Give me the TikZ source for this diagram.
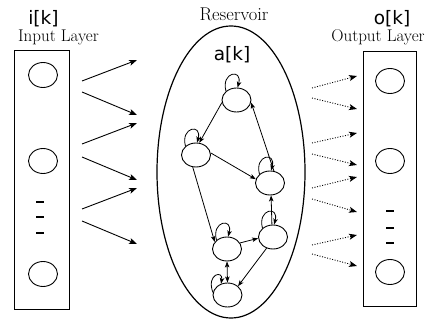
\documentclass[tikz,border=0pt]{standalone}
\usepackage{fontspec}
\newfontfamily\varfont{DejaVu Sans}
\usetikzlibrary{arrows.meta,shapes.geometric}

\begin{document}
\begin{tikzpicture}[x=1pt,y=1pt,
  layerbox/.style={draw, line width=0.9pt, rectangle, inner sep=0pt, outer sep=0pt},
  unit/.style={draw, ellipse, line width=0.9pt, minimum width=29pt, minimum height=25pt, inner sep=0pt},
  rnode/.style={draw, ellipse, line width=0.9pt, minimum width=29pt, minimum height=24pt, inner sep=0pt},
  dashmark/.style={line width=2pt},
  feed/.style={line width=0.9pt, -{Stealth[length=8pt,width=6pt,inset=2pt]}},
  readout/.style={line width=0.9pt, dash pattern=on 1pt off 1.6pt, -{Stealth[length=8pt,width=6pt,inset=2pt]}},
  rlink/.style={line width=0.8pt, -{Stealth[length=6pt,width=4.5pt,inset=1.5pt]}},
  rboth/.style={line width=0.8pt, {Stealth[length=6pt,width=4.5pt,inset=1.5pt]}-{Stealth[length=6pt,width=4.5pt,inset=1.5pt]}},
  romanlabel/.style={font=\fontsize{17}{20}\selectfont, inner sep=0pt, anchor=base},
  varlabel/.style={font=\varfont\fontsize{18.5}{22}\selectfont, inner sep=0pt, anchor=base}
]
\useasboundingbox (0,0) rectangle (430,-323);

% ---- input layer ----
\node[varlabel] (ik) at (43.5,-24.5) {i[k]};
\node[romanlabel] (intitle) at (58.5,-41.5) {Input Layer};
\node[layerbox, minimum width=55pt, minimum height=259pt] (inbox) at (41.5,-179.5) {};
\node[unit] (i1) at (43,-75) {};
\node[unit] (i2) at (43,-161) {};
\node[unit] (i3) at (43,-274) {};
\foreach \y in {202,217,233} \draw[dashmark] (36,-\y) -- (44,-\y);

% ---- input connections ----
\foreach \n/\ya/\yb in {1/81/60, 2/92/115, 3/144/123, 4/157/180, 5/209/188, 6/221/244} {
  \coordinate (ia\n) at (82,-\ya);
  \coordinate (ib\n) at (137,-\yb);
  \draw[feed] (ia\n) -- (ib\n);
}

% ---- reservoir ----
\node[romanlabel, font=\fontsize{18.5}{22}\selectfont] (restitle) at (234,-20.5) {Reservoir};
\node[draw, ellipse, line width=1.2pt, minimum width=148pt, minimum height=292pt, inner sep=0pt] (res) at (231,-172) {};
\node[varlabel] (ak) at (232,-61) {a[k]};

\node[rnode] (A) at (236.5,-100) {};
\node[rnode] (B) at (196,-155) {};
\node[rnode] (C) at (270,-183) {};
\node[rnode] (D) at (227,-249) {};
\node[rnode] (E) at (273,-237) {};
\node[rnode] (F) at (227.5,-295) {};

\draw[rlink] (A.190) -- (B.75);
\draw[rlink] (C.72) -- (A.-10);
\draw[rlink] (B.8) -- (C.165);
\draw[rlink] (B.255) -- (D.150);
\draw[rlink] (D.25) -- (E.185);
\draw[rlink] (E.95) -- (C.275);
\draw[rlink] (E.240) -- (F.40);
\draw[rboth] (D.270) -- (F.90);

% self-connections
\foreach \v in {A,B,C,D,E}
  \draw[rlink] (\v.140) .. controls +(105:20) and +(75:20) .. (\v.85);
\draw[rlink] (F.170) .. controls +(110:20) and +(80:14) .. (F.120);

% ---- readout connections ----
\foreach \n/\ya/\yb in {1/88/76, 2/98/109, 3/143/133, 4/154/165, 5/188/177, 6/199/212, 7/245/235, 8/254/266} {
  \coordinate (ra\n) at (312,-\ya);
  \coordinate (rb\n) at (357,-\yb);
  \draw[readout] (ra\n) -- (rb\n);
}

% ---- output layer ----
\node[varlabel] (ok) at (392,-24.5) {o[k]};
\node[romanlabel] (outtitle) at (378,-41.5) {Output Layer};
\node[layerbox, minimum width=53pt, minimum height=255pt] (outbox) at (389.5,-178.5) {};
\node[unit] (o1) at (390,-81) {};
\node[unit] (o2) at (390,-161) {};
\node[unit] (o3) at (390,-272) {};
\foreach \y in {211,228,243} \draw[dashmark] (386,-\y) -- (394,-\y);
\end{tikzpicture}
\end{document}
